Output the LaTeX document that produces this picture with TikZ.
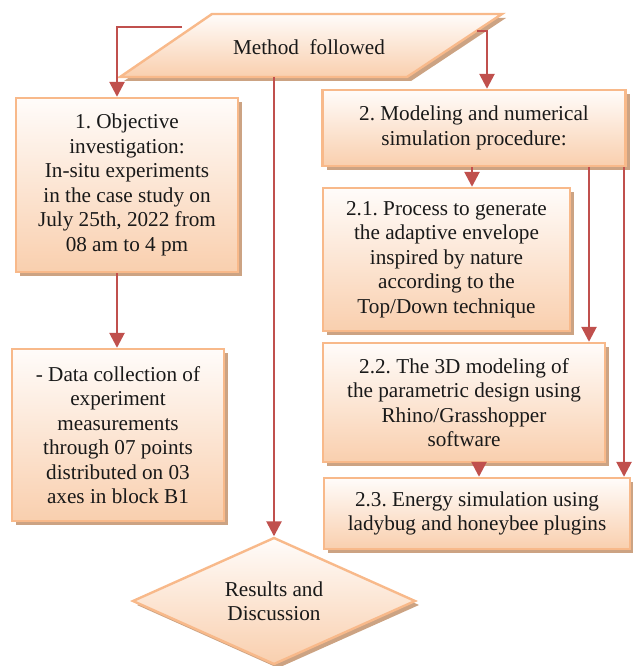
\documentclass[tikz,border=0pt]{standalone}
\usepackage{fontspec}
\setmainfont{Liberation Serif}
\usetikzlibrary{shapes.geometric,arrows.meta,shadows}
\definecolor{edgec}{HTML}{F8B98A}
\definecolor{topc}{HTML}{FFFCFA}
\definecolor{botc}{HTML}{F9CFAE}
\definecolor{shadc}{HTML}{CCA383}
\definecolor{arrc}{HTML}{C0504D}
\begin{document}
\frenchspacing
\begin{tikzpicture}[x=1pt,y=-1pt,
  txt/.style={font=\fontsize{21.2}{24.5}\selectfont, align=center, text=black!90},
  boxshadow/.style={drop shadow={shadow xshift=4pt,shadow yshift=-4pt,fill=shadc,opacity=1}},
  shapestyle/.style={draw=edgec, line width=2.4pt, top color=topc, bottom color=botc, boxshadow},
  block/.style={shapestyle, txt, inner sep=0pt},
  conn/.style={draw=arrc, line width=2.6pt, -{Triangle[width=15pt,length=15pt]}}
]
\useasboundingbox (0,0) rectangle (632,666);

% parallelogram
\coordinate (pTL) at (212,14);
\coordinate (pTR) at (502,14);
\coordinate (pBR) at (407,77);
\coordinate (pBL) at (120,77);
\path[shapestyle] (pTL) -- (pTR) -- (pBR) -- (pBL) -- cycle;
\node[txt] (method) at (309,47) {Method\ \ followed};

% boxes
\node[block, minimum width=222pt, minimum height=174pt] (obj) at (127,185)
  {1. Objective\\investigation:\\In-situ experiments\\in the case study on\\July 25th, 2022 from\\08 am to 4 pm};
\node[block, minimum width=212pt, minimum height=172pt] (data) at (118,435)
  {- Data collection of\\experiment\\measurements\\through 07 points\\distributed on 03\\axes in block B1};
\node[block, minimum width=303pt, minimum height=76pt] (mod) at (474,128)
  {2. Modeling and numerical\\simulation procedure:};
\node[block, minimum width=247pt, minimum height=143pt] (p21) at (446.5,259.5)
  {2.1. Process to generate\\the adaptive envelope\\inspired by nature\\according to the\\Top/Down technique};
\node[block, minimum width=282pt, minimum height=119pt] (p22) at (464,402.5)
  {2.2. The 3D modeling of\\the parametric design using\\Rhino/Grasshopper\\software};
\node[block, minimum width=306pt, minimum height=71pt] (p23) at (477,513.5)
  {2.3. Energy simulation using\\ladybug and honeybee plugins};
\node[block, diamond, aspect=2.2, minimum width=283pt, minimum height=127pt] (res) at (274,601)
  {Results and\\Discussion};

% connectors
\coordinate (c1s) at (182,27);
\coordinate (c2s) at (477,31);
\draw[conn] (c1s) -| ([xshift=-10pt]obj.north);
\draw[conn] (c2s) -| ([xshift=13pt]mod.north);
\draw[conn] (res.north |- pBL) -- (res.north);
\draw[conn] ([xshift=-10pt]obj.south) -- ([xshift=-10pt]obj.south |- data.north);
\draw[conn] ([xshift=-2pt]mod.south) -- ([xshift=-2pt]mod.south |- p21.north);
\draw[conn] ([xshift=115pt]mod.south) -- ([xshift=115pt]mod.south |- p22.north);
\draw[conn] ([xshift=150pt]mod.south) -- ([xshift=150pt]mod.south |- p23.north);
\draw[conn] ([xshift=15pt]p22.south) -- ([xshift=15pt]p22.south |- p23.north);
\end{tikzpicture}
\end{document}
